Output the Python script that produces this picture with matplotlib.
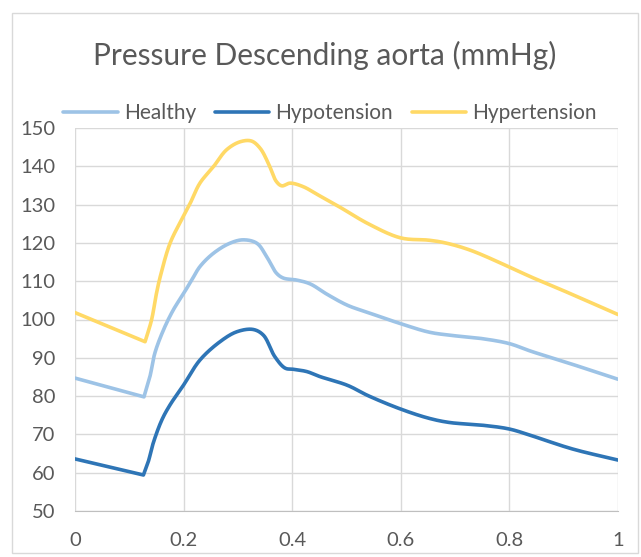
import numpy as np
import matplotlib
matplotlib.use("Agg")
import matplotlib.pyplot as plt
from matplotlib.patches import Rectangle

title = "Pressure Descending aorta (mmHg)"
series_names = ["Healthy", "Hypotension", "Hypertension"]
colors = ["#9DC3E6", "#2E75B6", "#FFD966"]

healthy_x = [0, 0.127, 0.138, 0.147, 0.163, 0.181, 0.2, 0.215, 0.230, 0.255, 0.285, 0.310, 0.335,
             0.353, 0.371, 0.384, 0.408, 0.433, 0.464, 0.502, 0.54, 0.6, 0.652, 0.69, 0.75, 0.8,
             0.84, 0.916, 1.0]
healthy_y = [84.7, 79.8, 85.1, 91.2, 97.3, 102.5, 106.8, 110.3, 113.8, 117.3, 119.9, 120.8, 119.9,
             116.4, 112.1, 110.8, 110.3, 109.3, 106.6, 103.7, 101.8, 98.9, 96.7, 95.9, 95.0, 93.7,
             91.7, 88.3, 84.4]

hypo_x = [0, 0.126, 0.135, 0.144, 0.160, 0.175, 0.2, 0.230, 0.267, 0.298, 0.328, 0.347, 0.368,
          0.387, 0.402, 0.427, 0.451, 0.502, 0.54, 0.6, 0.652, 0.69, 0.75, 0.8, 0.84, 0.916, 1.0]
hypo_y = [63.6, 59.4, 62.9, 67.7, 73.8, 77.7, 82.9, 89.4, 94.2, 96.8, 97.4, 95.9, 90.3,
          87.3, 87.0, 86.4, 85.1, 82.8, 80.1, 76.6, 74.2, 73.1, 72.4, 71.4, 69.7, 66.2, 63.3]

hyper_x = [0, 0.129, 0.141, 0.150, 0.157, 0.175, 0.196, 0.212, 0.230, 0.255, 0.279, 0.304, 0.325,
           0.341, 0.356, 0.371, 0.381, 0.396, 0.420, 0.448, 0.487, 0.54, 0.6, 0.652, 0.682, 0.728,
           0.8, 0.84, 0.9, 1.0]
hyper_y = [101.8, 94.2, 99.9, 106.8, 111.2, 119.9, 126.0, 130.3, 135.6, 139.9, 144.3, 146.4, 146.6,
           144.7, 140.8, 136.0, 134.9, 135.6, 134.7, 132.5, 129.4, 125.0, 121.3, 120.7, 120.0, 118.1,
           113.7, 111.1, 107.5, 101.3]

x_ticks = [0, 0.2, 0.4, 0.6, 0.8, 1.0]
x_tick_labels = ["0", "0.2", "0.4", "0.6", "0.8", "1"]
y_ticks = list(range(50, 151, 10))


def _cr(P, n=24, alpha=0.5):
    P = np.vstack([2 * P[0] - P[1], P, 2 * P[-1] - P[-2]])
    out = []
    for i in range(1, len(P) - 2):
        p0, p1, p2, p3 = P[i - 1], P[i], P[i + 1], P[i + 2]
        t0 = 0.0
        t1 = t0 + max(np.linalg.norm(p1 - p0), 1e-6) ** alpha
        t2 = t1 + max(np.linalg.norm(p2 - p1), 1e-6) ** alpha
        t3 = t2 + max(np.linalg.norm(p3 - p2), 1e-6) ** alpha
        t = np.linspace(t1, t2, n, endpoint=False)[:, None]
        A1 = (t1 - t) / (t1 - t0) * p0 + (t - t0) / (t1 - t0) * p1
        A2 = (t2 - t) / (t2 - t1) * p1 + (t - t1) / (t2 - t1) * p2
        A3 = (t3 - t) / (t3 - t2) * p2 + (t - t2) / (t3 - t2) * p3
        B1 = (t2 - t) / (t2 - t0) * A1 + (t - t0) / (t2 - t0) * A2
        B2 = (t3 - t) / (t3 - t1) * A2 + (t - t1) / (t3 - t1) * A3
        C = (t2 - t) / (t2 - t1) * B1 + (t - t1) / (t2 - t1) * B2
        out.append(C)
    out.append(P[-2][None, :])
    return np.vstack(out)


def smooth(xs, ys, corner, sx=543.0, sy=3.83):
    """Centripetal Catmull-Rom smoothing, with a sharp corner at index `corner`."""
    P = np.column_stack([np.asarray(xs) * sx, np.asarray(ys) * sy]).astype(float)
    a = _cr(P[:corner + 1])
    b = _cr(P[corner:])
    out = np.vstack([a, b[1:]])
    return out[:, 0] / sx, out[:, 1] / sy


plt.rcParams['font.family'] = ['Lato', 'DejaVu Sans']
text_color = "#595959"

fig = plt.figure(figsize=(6.41, 5.57), dpi=100)
fig.patches.append(Rectangle((12 / 641, 1 - 553 / 557), 626 / 641, 540 / 557,
                             transform=fig.transFigure, fill=False,
                             edgecolor="#d9d9d9", linewidth=1.0))

ax = fig.add_axes([75 / 641, 1 - 511 / 557, 543 / 641, 383 / 557])

for name, c, xs, ys in zip(series_names, colors,
                           [healthy_x, hypo_x, hyper_x],
                           [healthy_y, hypo_y, hyper_y]):
    corner = int(np.argmin(ys[:5]))
    sx, sy = smooth(xs, ys, corner)
    ax.plot(sx, sy, color=c, lw=2.6, label=name, solid_capstyle='round',
            solid_joinstyle='round')

ax.set_xlim(0, 1)
ax.set_ylim(50, 150)
ax.set_xticks(x_ticks)
ax.set_xticklabels(x_tick_labels)
ax.set_yticks(y_ticks)
ax.grid(True, color="#d9d9d9", lw=1.0)
ax.set_axisbelow(True)
for s in ax.spines.values():
    s.set_visible(False)
ax.spines['bottom'].set_visible(True)
ax.spines['bottom'].set_color("#bfbfbf")
ax.tick_params(length=0, labelsize=14.5, labelcolor=text_color)
ax.tick_params(axis='y', pad=14)
ax.tick_params(axis='x', pad=15)

fig.text(325 / 641, 1 - 55 / 557, title, ha='center', va='center',
         fontsize=21.5, color=text_color)

fig.legend(loc='center', bbox_to_anchor=(330 / 641, 1 - 113 / 557), ncol=3,
           frameon=False, fontsize=15, labelcolor=text_color,
           handlelength=2.6, handletextpad=0.3, columnspacing=0.9)

fig.savefig("out.png", dpi=100)
